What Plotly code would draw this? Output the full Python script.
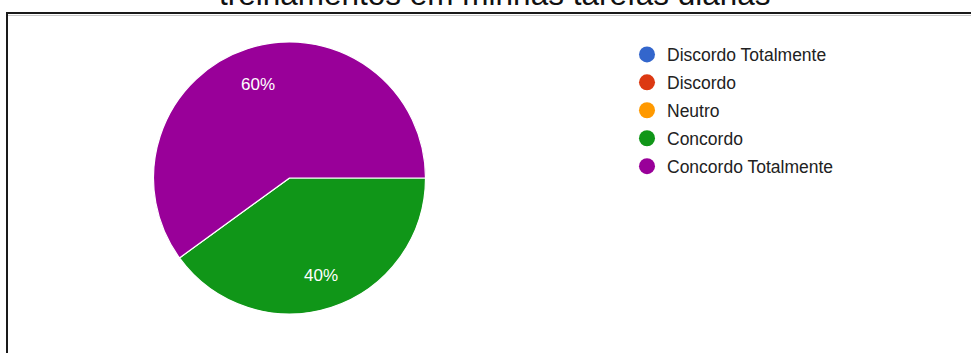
import math
import plotly.graph_objects as go

# Survey answers (share of respondents, %)
categories = ["Discordo Totalmente", "Discordo", "Neutro", "Concordo", "Concordo Totalmente"]
shares = [0, 0, 0, 40, 60]
colors = ["#3366cc", "#dc3912", "#ff9900", "#109618", "#990099"]
title_text = "treinamentos em minhas tarefas diárias"

W, H = 971, 353

# pie placement in pixels -> paper fractions
cx, cy, r = 289.5, 178, 136
dom_x = [(cx - r) / W, (cx + r) / W]
dom_y = [1 - (cy + r) / H, 1 - (cy - r) / H]
start_deg = 90          # first slice starts at 3 o'clock, going clockwise
label_r = 0.74 * r      # radius at which percentage labels sit

fig = go.Figure()
fig.add_trace(go.Pie(
    labels=categories,
    values=shares,
    marker=dict(colors=colors, line=dict(color="white", width=1.2)),
    sort=False,
    direction="clockwise",
    rotation=start_deg,
    textinfo="none",
    domain=dict(x=dom_x, y=dom_y),
    showlegend=False,
    hoverinfo="label+percent",
))

# percentage labels at the mid-angle of each non-empty slice
total = sum(shares)
annotations = []
cum = 0
for v in shares:
    if v > 0:
        theta = math.radians(start_deg + 360 * (cum + v / 2) / total)
        px = cx + label_r * math.sin(theta)
        py = cy - label_r * math.cos(theta)
        annotations.append(dict(
            text=f"{round(100 * v / total)}%", xref="paper", yref="paper",
            x=px / W, y=1 - py / H, xanchor="center", yanchor="middle",
            yshift=-2, showarrow=False,
            font=dict(family="Liberation Sans, Arial, sans-serif", size=17, color="#ffffff"),
        ))
    cum += v

annotations.append(dict(
    text=title_text, xref="paper", yref="paper",
    x=495 / W, xanchor="center", y=1 - 14 / H, yanchor="bottom",
    showarrow=False,
    font=dict(family="Liberation Sans, Arial, sans-serif", size=31.5, color="#111111"),
))

# legend entries with round swatches
for i, (name, col) in enumerate(zip(categories, colors)):
    fig.add_trace(go.Scatter(
        x=[None], y=[None], mode="markers", name=name,
        marker=dict(symbol="circle", size=16, color=col),
        legendgroup=f"g{i}", showlegend=True,
    ))

fig.update_layout(
    width=W, height=H,
    margin=dict(l=0, r=0, t=0, b=0),
    paper_bgcolor="white", plot_bgcolor="white",
    xaxis=dict(visible=False), yaxis=dict(visible=False),
    legend=dict(
        x=627 / W, xanchor="left",
        y=1 - 36.5 / H, yanchor="top",
        traceorder="grouped", tracegroupgap=2.2,
        font=dict(family="Liberation Sans, Arial, sans-serif", size=17.5, color="#222222"),
        bgcolor="rgba(0,0,0,0)",
        itemclick=False, itemdoubleclick=False,
    ),
    annotations=annotations,
    shapes=[
        # frame: top and left edges
        dict(type="line", xref="paper", yref="paper",
             x0=7 / W, x1=1, y0=1 - 13 / H, y1=1 - 13 / H,
             line=dict(color="#1a1a1a", width=2)),
        dict(type="line", xref="paper", yref="paper",
             x0=8 / W, x1=1, y0=1 - 15.5 / H, y1=1 - 15.5 / H,
             line=dict(color="#c8c8c8", width=1)),
        dict(type="line", xref="paper", yref="paper",
             x0=7 / W, x1=7 / W, y0=0, y1=1 - 12 / H,
             line=dict(color="#1a1a1a", width=2)),
    ],
)

fig.write_html("out.html")
